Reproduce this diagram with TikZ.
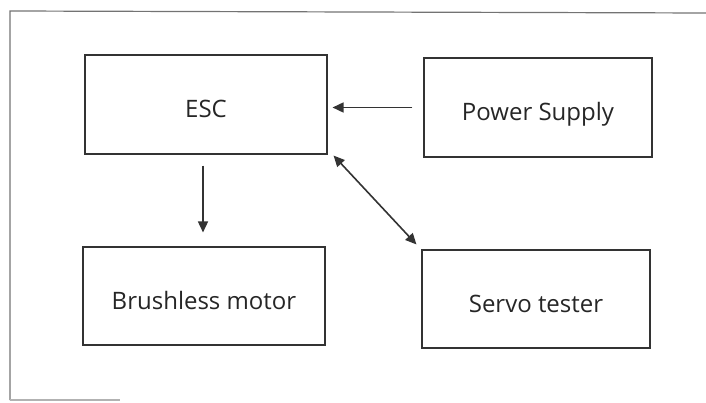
\documentclass[tikz,border=0pt]{standalone}
\usepackage{fontspec}
\setmainfont{Open Sans}
\usetikzlibrary{arrows.meta}
\begin{document}
\begin{tikzpicture}[x=1pt,y=-1pt,
  tip/.style={-{Triangle[length=11pt,width=10pt]}},
  blk/.style={draw=black!80,line width=1.1pt,inner sep=0pt,font=\fontsize{24}{28}\selectfont,text=black!85,text height=26pt,text depth=0pt},
  conn/.style={draw=black!80,line width=1.6pt,tip},
  frame/.style={draw=black!55,line width=1.2pt}]
\useasboundingbox (0,0) rectangle (706,403);
\coordinate (f1) at (10,400);
\coordinate (f2) at (10,11);
\coordinate (f3) at (706,13);
\coordinate (f4) at (120,400);
\draw[frame] (f1) -- (f2) -- (f3);
\draw[frame,black!30] (f1) -- (f4);
\node[blk,minimum width=242pt,minimum height=99pt] (esc) at (206,104.5) {ESC};
\node[blk,minimum width=228pt,minimum height=99pt] (ps) at (538,107.5) {Power Supply};
\node[blk,minimum width=242pt,minimum height=98pt] (bm) at (204,296) {Brushless motor};
\node[blk,minimum width=228pt,minimum height=98pt] (st) at (536,299) {Servo tester};
\coordinate (a1) at ([xshift=-11pt]ps.west);
\coordinate (a2) at ([xshift=5pt]esc.east |- a1);
\draw[conn] (a1) -- (a2);
\coordinate (b1) at ([xshift=-3pt,yshift=-11pt]esc.south);
\coordinate (b2) at ([yshift=14pt]b1 |- bm.north);
\draw[conn] (b1) -- (b2);
\coordinate (c1) at ([xshift=6pt,yshift=-1pt]esc.south east);
\coordinate (c2) at ([xshift=-5pt,yshift=5pt]st.north west);
\draw[conn,{Triangle[length=11pt,width=10pt]}-{Triangle[length=11pt,width=10pt]}] (c1) -- (c2);
\end{tikzpicture}
\end{document}
